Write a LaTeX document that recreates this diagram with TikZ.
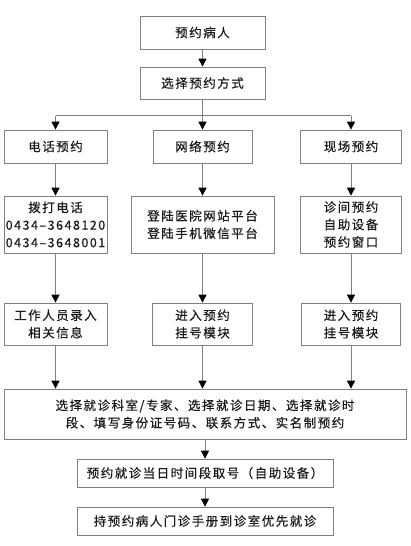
\documentclass[tikz,border=0pt]{standalone}
\usepackage{fontspec}
\newfontfamily\cjk[LetterSpace=12, FakeBold=0.5]{Noto Sans CJK SC}
\usepackage{tikz}
\usetikzlibrary{arrows.meta, positioning, calc}
\definecolor{boxline}{HTML}{808080}
\definecolor{ink}{HTML}{1A1A1A}

\begin{document}
\begin{tikzpicture}[
    x=1pt, y=-1pt,
    box/.style = {rectangle, draw=boxline, line width=0.7pt, text=ink, align=center, inner sep=0pt,
                  font=\cjk\fontsize{12.5}{17.5}\selectfont},
    line/.style = {draw=boxline, line width=0.7pt},
    arrow/.style = {line, -{Triangle[width=8pt, length=8pt, color=black]}}
]
\useasboundingbox (0,0) rectangle (410,546);

% Row 1
\node[box, minimum width=125, minimum height=33] (patient) at (202.5,32.5) {预约病人};
\node[box, minimum width=125, minimum height=32] (choice) at (202.5,83) {选择预约方式};
\coordinate (fork) at (202.5,115.5);
% Row 2
\node[box, minimum width=103, minimum height=33] (phone) at (55.5,146.5) {电话预约};
\node[box, minimum width=99, minimum height=33] (web) at (202.5,146.5) {网络预约};
\node[box, minimum width=101, minimum height=33] (site) at (351,146.5) {现场预约};
% Row 3
\node[box, minimum width=103, minimum height=57] (dial) at (55.5,224.5) {拨打电话\\0434–3648120\\0434–3648001};
\node[box, minimum width=143, minimum height=57] (login) at (202.5,224.5) {登陆医院网站平台\\登陆手机微信平台};
\node[box, minimum width=101, minimum height=57] (desk) at (351,224.5) {诊间预约\\自助设备\\预约窗口};
% Row 4
\node[box, minimum width=103, minimum height=42] (staff) at (55.5,324) {工作人员录入\\相关信息};
\node[box, minimum width=100, minimum height=42] (module) at (202.5,324) {进入预约\\挂号模块};
\node[box, minimum width=99, minimum height=42] (module2) at (351,324) {进入预约\\挂号模块};
% Row 5
\node[box, minimum width=402, minimum height=50] (form) at (205,414) {选择就诊科室/专家、选择就诊日期、选择就诊时\\段、填写身份证号码、联系方式、实名制预约};
\node[box, minimum width=256, minimum height=28] (ticket) at (205,473) {预约就诊当日时间段取号（自助设备）};
\node[box, minimum width=256, minimum height=28] (visit) at (205,521) {持预约病人门诊手册到诊室优先就诊};

% Edges
\draw[arrow] (patient) -- (choice);
\draw[line] (choice) -- (fork);
\draw[line] (fork -| phone) -- (fork -| site);
\draw[arrow] (fork -| phone) -- (phone);
\draw[arrow] (fork) -- (web);
\draw[arrow] (fork -| site) -- (site);

\draw[arrow] (phone) -- (dial);
\draw[arrow] (web) -- (login);
\draw[arrow] (site) -- (desk);

\draw[arrow] (dial) -- (staff);
\draw[arrow] (login) -- (module);
\draw[arrow] (desk) -- (module2);

\draw[arrow] (staff) -- (staff |- form.north);
\draw[arrow] (module) -- (module |- form.north);
\draw[arrow] (module2) -- (module2 |- form.north);

\draw[arrow] (form) -- (ticket);
\draw[arrow] (ticket) -- (visit);

\end{tikzpicture}
\end{document}
